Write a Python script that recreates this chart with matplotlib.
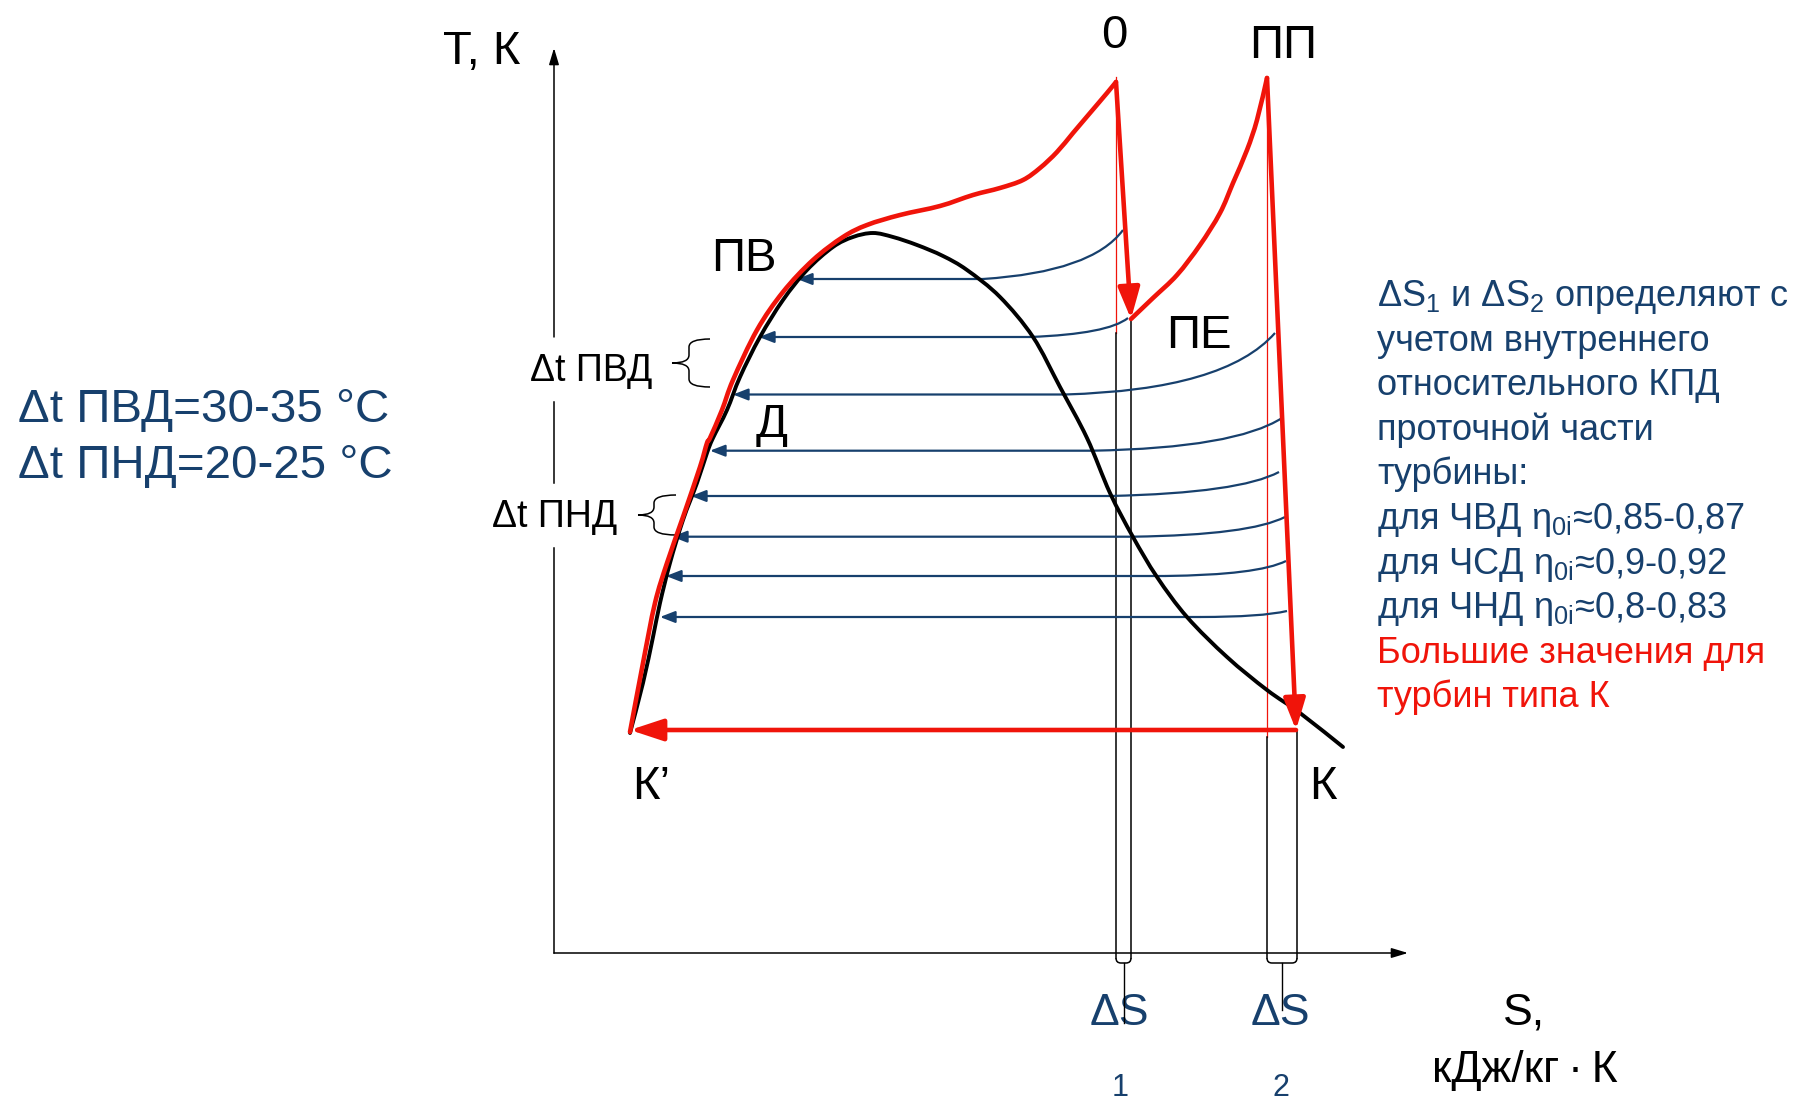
import numpy as np
import matplotlib.pyplot as plt
from matplotlib.path import Path
from matplotlib.patches import PathPatch

plt.rcParams['font.family'] = ['Liberation Sans', 'DejaVu Sans']
plt.rcParams['mathtext.fontset'] = 'custom'
plt.rcParams['mathtext.rm'] = 'Liberation Sans'
plt.rcParams['mathtext.it'] = 'Liberation Sans:italic'

RED = '#f0140a'
BLUE = '#17406d'

# schematic T-s diagram (pixel units, y down)
dome_s = [630, 643, 653, 660, 670, 683, 697, 707, 713, 727, 740, 760, 783, 807,
          833, 853, 873, 893, 917, 943, 967, 1000, 1033, 1060, 1087, 1110, 1133,
          1157, 1187, 1227, 1267, 1300, 1343]
dome_t = [733, 683, 637, 603, 563, 520, 483, 453, 438, 410, 377, 337, 300, 270,
          247, 237, 233, 237, 245, 256, 270, 297, 337, 387, 438, 493, 537,
          577, 617, 657, 690, 713, 747]

# K' -> ПВ -> 0 (feed water heating, boiling, superheat)
cycle_s = [630, 643, 655, 667, 683, 700, 707, 710, 722, 733, 757, 783, 813, 843,
           867, 900, 940, 973, 1000, 1023, 1040, 1057, 1073, 1090, 1107, 1116]
cycle_t = [732, 663, 603, 563, 517, 467, 443, 438, 410, 380, 330, 292, 260, 237,
           225, 215, 206, 195, 188, 180, 168, 152, 133, 113, 93, 82]

# ПЕ -> ПП (reheat)
reheat_s = [1131, 1153, 1177, 1200, 1220, 1233, 1247, 1257, 1267]
reheat_t = [319, 298, 275, 245, 213, 183, 150, 120, 78]

point_0 = (1116, 82)
point_pe = (1131, 319)
point_pp = (1267, 78)
point_k = (1296, 730)
point_k1 = (630, 730)

# extraction isobars: start, bend control, join, arrow tip
iso_start = [(1123, 230), (1128, 318), (1275, 333), (1282, 418),
             (1279, 472), (1285, 517), (1286, 561), (1287, 611)]
iso_ctrl = [(1092, 272), (1108, 334), (1225, 390), (1235, 448),
            (1240, 493), (1250, 535), (1258, 575), (1262, 617)]
iso_join = [(983, 279), (1030, 337), (1065, 394.5), (1093, 450.7),
            (1110, 496), (1133, 536.7), (1165, 576), (1200, 617)]
iso_tip_s = [797, 759, 733, 710, 691, 672, 666, 660]

# delta s strips
ds1 = (1116, 1131)
ds2 = (1267, 1297)

right_lines = [
    'ΔS$_1$ и ΔS$_2$ определяют с',
    'учетом внутреннего',
    'относительного КПД',
    'проточной части',
    'турбины:',
    r'для ЧВД η$_{\mathrm{0i}}$≈0,85-0,87',
    r'для ЧСД η$_{\mathrm{0i}}$≈0,9-0,92',
    r'для ЧНД η$_{\mathrm{0i}}$≈0,8-0,83',
    'Большие значения для',
    'турбин типа К',
]
right_colors = [BLUE] * 8 + [RED] * 2


def arrow(ax, start, end, color, lw, ms, hl, hw, z=3):
    ax.annotate('', xy=end, xytext=start,
                arrowprops=dict(arrowstyle='-|>,head_length=%s,head_width=%s' % (hl, hw),
                                color=color, lw=lw, mutation_scale=ms,
                                shrinkA=0, shrinkB=0), zorder=z)


def smooth(ax, xs, ys, color, lw, z):
    # curve through the read points (Catmull-Rom as cubic Bezier pieces)
    pts = np.column_stack([xs, ys]).astype(float)
    n = len(pts)
    verts = [pts[0]]
    codes = [Path.MOVETO]
    for i in range(n - 1):
        p0 = pts[i - 1] if i > 0 else pts[i]
        p1 = pts[i]
        p2 = pts[i + 1]
        p3 = pts[i + 2] if i + 2 < n else pts[i + 1]
        verts += [p1 + (p2 - p0) / 6, p2 - (p3 - p1) / 6, p2]
        codes += [Path.CURVE4] * 3
    ax.add_patch(PathPatch(Path(verts, codes), fill=False, lw=lw, color=color,
                           zorder=z, capstyle='round', joinstyle='round'))


def brace(ax, xr, xm, xt, yt, yb, r=8):
    ym = (yt + yb) / 2
    verts = [(xr, yt), (xm, yt), (xm, yt + r), (xm, ym - r), (xm, ym), (xt, ym),
             (xm, ym), (xm, ym + r), (xm, yb - r), (xm, yb), (xr, yb)]
    codes = [Path.MOVETO, Path.CURVE3, Path.CURVE3, Path.LINETO, Path.CURVE3, Path.CURVE3,
             Path.CURVE3, Path.CURVE3, Path.LINETO, Path.CURVE3, Path.CURVE3]
    ax.add_patch(PathPatch(Path(verts, codes), fill=False, lw=1.1, color='black'))


fig = plt.figure(figsize=(17.95, 11.03), dpi=100)
ax = fig.add_axes([0, 0, 1, 1])
ax.set_xlim(0, 1795)
ax.set_ylim(1103, 0)
ax.axis('off')

# axes (T axis broken where the Δt labels sit)
ax.plot([554, 554], [953, 548], color='black', lw=1.1)
ax.plot([554, 554], [483, 402], color='black', lw=1.1)
arrow(ax, (554, 337), (554, 48), 'black', 1.1, 10, 1.0, 0.3)
arrow(ax, (554, 953), (1408, 953), 'black', 1.1, 10, 1.0, 0.3)

# thin verticals of the delta-s strips
ax.plot([ds1[0], ds1[0]], [77, 333], color=RED, lw=0.9, zorder=1)
ax.plot([ds1[0], ds1[0]], [333, 958], color='black', lw=1.1, zorder=1)
ax.plot([ds1[1], ds1[1]], [point_pe[1], 958], color='black', lw=1.1, zorder=1)
ax.plot([ds2[0], ds2[0]], [77, 737], color=RED, lw=0.9, zorder=1)
ax.plot([ds2[0], ds2[0]], [737, 958], color='black', lw=1.1, zorder=1)
ax.plot([ds2[1], ds2[1]], [point_k[1], 958], color='black', lw=1.1, zorder=1)
for a, b, stem in [(ds1[0], ds1[1], 1023), (ds2[0], ds2[1], 1010)]:
    verts = [(a, 958), (a, 963), (a + 5, 963), (b - 5, 963), (b, 963), (b, 958)]
    codes = [Path.MOVETO, Path.CURVE3, Path.CURVE3, Path.LINETO, Path.CURVE3, Path.CURVE3]
    ax.add_patch(PathPatch(Path(verts, codes), fill=False, lw=1.1, color='black'))
    ax.plot([(a + b) / 2, (a + b) / 2], [963, stem], color='black', lw=1.0, zorder=4)

# isobars
for p0, c, p2, tip in zip(iso_start, iso_ctrl, iso_join, iso_tip_s):
    path = Path([p0, c, p2], [Path.MOVETO, Path.CURVE3, Path.CURVE3])
    ax.add_patch(PathPatch(path, fill=False, lw=1.6, color=BLUE, zorder=2))
    arrow(ax, p2, (tip, p2[1]), BLUE, 1.6, 10, 0.9, 0.35, z=2)

# saturation dome
smooth(ax, dome_s, dome_t, 'black', 2.8, 3)

# cycle
smooth(ax, cycle_s, cycle_t, RED, 3.3, 4)
smooth(ax, reheat_s, reheat_t, RED, 3.3, 4)
arrow(ax, point_0, point_pe, RED, 3.3, 20, 0.95, 0.33, z=4)
arrow(ax, point_pp, point_k, RED, 3.3, 20, 0.95, 0.33, z=4)
arrow(ax, point_k, point_k1, RED, 3.3, 20, 1.0, 0.33, z=4)

brace(ax, 710, 689, 672, 339, 387)
brace(ax, 676, 654, 638, 495, 535)

# labels on the diagram
ax.text(482, 64, 'Т, К', fontsize=34, ha='center', va='baseline')
ax.text(1114, 48, '0', fontsize=34, ha='center', va='baseline')
ax.text(1283, 58, 'ПП', fontsize=34, ha='center', va='baseline')
ax.text(744, 271, 'ПВ', fontsize=34, ha='center', va='baseline')
ax.text(1199, 348, 'ПЕ', fontsize=34, ha='center', va='baseline')
ax.text(772, 437, 'Д', fontsize=34, ha='center', va='baseline')
ax.text(632, 799, 'К’', fontsize=34, ha='left', va='baseline')
ax.text(1309, 799, 'К', fontsize=34, ha='left', va='baseline')
ax.text(652, 381, 'Δt ПВД', fontsize=27, ha='right', va='baseline')
ax.text(617, 527, 'Δt ПНД', fontsize=27, ha='right', va='baseline')

# entropy axis labels
ax.text(1119, 1025, 'ΔS', fontsize=32, color=BLUE, ha='center', va='baseline')
ax.text(1280, 1025, 'ΔS', fontsize=32, color=BLUE, ha='center', va='baseline')
ax.text(1120, 1096, '1', fontsize=22, color=BLUE, ha='center', va='baseline')
ax.text(1281, 1096, '2', fontsize=22, color=BLUE, ha='center', va='baseline')
ax.text(1503, 1025, 'S,', fontsize=32, ha='left', va='baseline')
ax.text(1525, 1082, 'кДж/кг\u2009·\u2009К', fontsize=32, ha='center', va='baseline')

# side notes
ax.text(18, 422, 'Δt ПВД=30-35 °C', fontsize=34.2, color=BLUE, va='baseline')
ax.text(18, 478, 'Δt ПНД=20-25 °C', fontsize=34.2, color=BLUE, va='baseline')
for i, (line, col) in enumerate(zip(right_lines, right_colors)):
    ax.text(1377, 306 + 44.6 * i, line, fontsize=26, color=col, va='baseline')

fig.savefig('out.png', dpi=100)
